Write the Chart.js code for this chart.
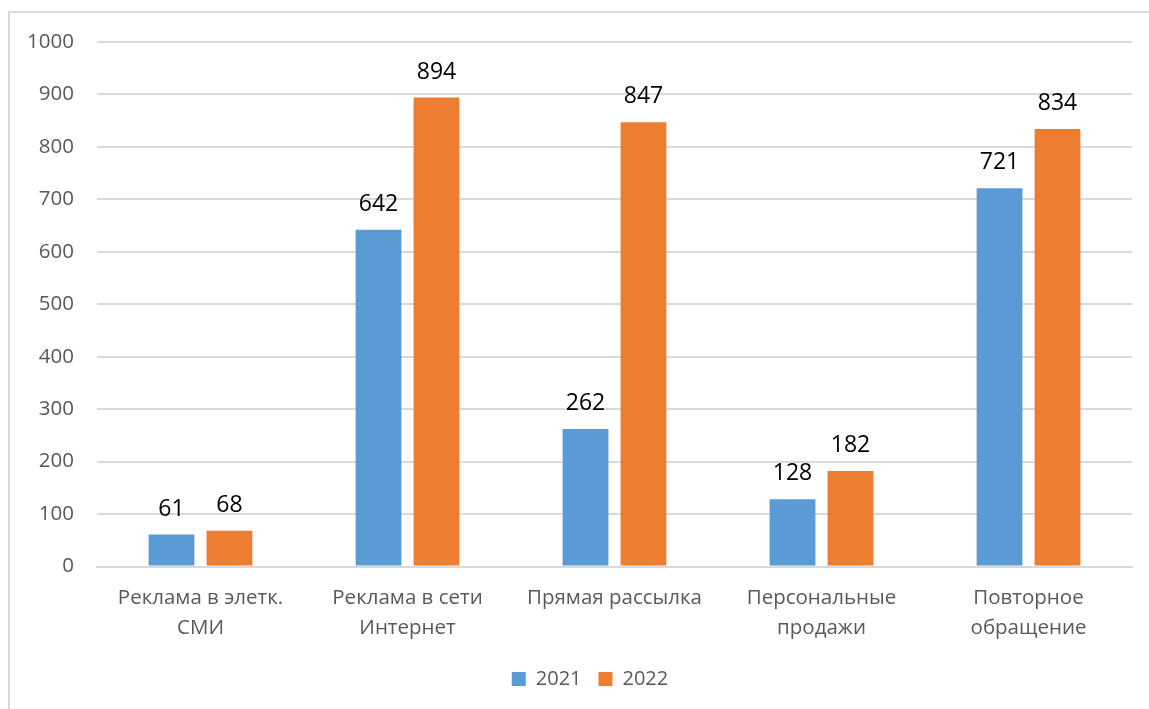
<!DOCTYPE html>
<html>
<head>
<meta charset="utf-8">
<script src="https://cdn.jsdelivr.net/npm/chart.js@4"></script>
<style>
  html, body { margin: 0; padding: 0; background: #fff; overflow: hidden; }
  #frame { position: absolute; left: 8px; top: 11px; width: 1200px; height: 800px; border: 2px solid #d9d9d9; }
  #wrap { position: absolute; left: 0; top: 0; width: 1149px; height: 709px; }
</style>
</head>
<body>
<div id="frame"></div>
<div id="wrap"><canvas id="chart"></canvas></div>
<script>
// channels and counts per year
const categories = [
  ['Реклама в элетк.', 'СМИ'],
  ['Реклама в сети', 'Интернет'],
  ['Прямая рассылка'],
  ['Персональные', 'продажи'],
  ['Повторное', 'обращение']
]
const values2021 = [61, 642, 262, 128, 721]
const values2022 = [68, 894, 847, 182, 834]
const yTicks = [0, 100, 200, 300, 400, 500, 600, 700, 800, 900, 1000]

const fontFamily = '"Open Sans", "DejaVu Sans", sans-serif'
const grey = '#595959'

// value labels over each bar
const barLabels = {
  id: 'barLabels',
  afterDatasetsDraw(chart) {
    const ctx = chart.ctx
    ctx.save()
    ctx.fillStyle = '#000'
    ctx.font = '23px ' + fontFamily
    ctx.textAlign = 'center'
    ctx.textBaseline = 'alphabetic'
    chart.data.datasets.forEach((ds, i) => {
      chart.getDatasetMeta(i).data.forEach((bar, j) => {
        ctx.fillText(ds.data[j], bar.x, bar.y - 19)
      })
    })
    ctx.restore()
  }
}

// legend sits centred over the plot area rather than the whole canvas
const legendShift = {
  id: 'legendShift',
  afterLayout(chart) {
    chart.legend.left += 24
    chart.legend.right += 24
  }
}

var ctx = document.getElementById('chart').getContext('2d')
var chart = new Chart(ctx, {
  type: 'bar',
  data: {
    labels: categories,
    datasets: [{
      label: '2021',
      data: values2021,
      backgroundColor: '#5b9bd5',
      categoryPercentage: 0.56,
      barPercentage: 0.79
    }, {
      label: '2022',
      data: values2022,
      backgroundColor: '#ed7d31',
      categoryPercentage: 0.56,
      barPercentage: 0.79
    }]
  },
  options: {
    animation: false,
    responsive: true,
    maintainAspectRatio: false,
    layout: { padding: { top: 42, right: 17, bottom: 10, left: 0 } },
    plugins: {
      legend: {
        position: 'bottom',
        labels: {
          color: grey,
          font: { family: fontFamily, size: 20 },
          boxWidth: 14,
          boxHeight: 14,
          padding: 17
        }
      },
      tooltip: { enabled: false }
    },
    scales: {
      x: {
        grid: { display: false },
        border: { color: '#d9d9d9', width: 2 },
        ticks: {
          color: grey,
          font: { family: fontFamily, size: 20.5, lineHeight: 1.5 },
          padding: 8,
          maxRotation: 0,
          autoSkip: false
        }
      },
      y: {
        min: 0,
        max: 1000,
        afterFit(scale) { scale.width = 97 },
        afterBuildTicks(scale) { scale.ticks = yTicks.map(v => ({ value: v })) },
        grid: { color: '#d9d9d9', lineWidth: 2, drawTicks: false },
        border: { display: false },
        ticks: {
          color: grey,
          font: { family: fontFamily, size: 20.5 },
          padding: 23,
          callback: v => String(v)
        }
      }
    }
  },
  plugins: [barLabels, legendShift]
})
</script>
</body>
</html>
